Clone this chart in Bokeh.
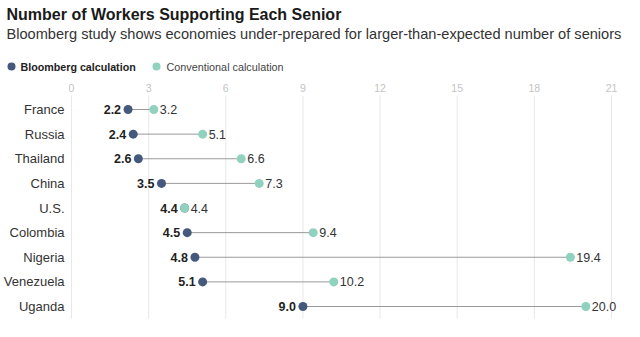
from bokeh.plotting import figure
from bokeh.models import Range1d, Label, ColumnDataSource
from bokeh.core.properties import value
from bokeh.embed import file_html
from bokeh.resources import INLINE

countries = ["France", "Russia", "Thailand", "China", "U.S.", "Colombia", "Nigeria", "Venezuela", "Uganda"]
bloomberg = [2.2, 2.4, 2.6, 3.5, 4.4, 4.5, 4.8, 5.1, 9.0]
conventional = [3.2, 5.1, 6.6, 7.3, 4.4, 9.4, 19.4, 10.2, 20.0]
ticks = [0, 3, 6, 9, 12, 15, 18, 21]

title = "Number of Workers Supporting Each Senior"
subtitle = "Bloomberg study shows economies under-prepared for larger-than-expected number of seniors"
legend_labels = ["Bloomberg calculation", "Conventional calculation"]

NAVY = "#44597c"
TEAL = "#90d2bf"
FONT = "Liberation Sans"

W, H = 640, 337
X0PX, X21PX = 71, 611
PXU = (X21PX - X0PX) / 21.0
ROW0, ROWN = 109, 306
PITCH = (ROWN - ROW0) / 8.0


def px(x):
    return (x - X0PX) / PXU


def py(y):
    return (y - ROW0) / PITCH


p = figure(width=W, height=H, output_backend="svg", toolbar_location=None,
           x_range=Range1d(px(0), px(W)), y_range=Range1d(py(H), py(0)),
           min_border=0)
p.axis.visible = False
p.grid.visible = False
p.outline_line_color = None
p.background_fill_color = "white"
p.border_fill_color = "white"

rows = list(range(len(countries)))
src = ColumnDataSource(dict(y=rows, country=countries, b=bloomberg, c=conventional,
                            bl=[f"{v:.1f}" for v in bloomberg],
                            cl=[f"{v:.1f}" for v in conventional]))

# grid lines
tsrc = ColumnDataSource(dict(x=ticks, lab=[str(t) for t in ticks]))
p.segment(x0="x", x1="x", y0=py(95), y1=py(318), source=tsrc, line_color="#e8e8e8", line_width=1)
p.text(x="x", y=py(87), text="lab", source=tsrc, text_font=value(FONT), text_font_size="10.5px",
       text_color="#c4c4c4", text_align="center", text_baseline="middle")

# connectors
p.segment(x0="b", x1="c", y0="y", y1="y", source=src, line_color="#9a9a9a", line_width=1)
p.scatter(x="b", y="y", source=src, size=9, fill_color=NAVY, line_color=None)
p.scatter(x="c", y="y", source=src, size=9, fill_color=TEAL, line_color=None)

# value labels
p.text(x="b", y="y", text="bl", source=src, x_offset=-7, text_align="right", text_baseline="middle",
       text_font=value(FONT), text_font_size="12.5px", text_font_style="bold", text_color="#1f1f1f")
p.text(x="c", y="y", text="cl", source=src, x_offset=6, text_align="left", text_baseline="middle",
       text_font=value(FONT), text_font_size="12.5px", text_color="#333333")

# country labels
p.text(x=px(64), y="y", text="country", source=src, text_align="right", text_baseline="middle",
       text_font=value(FONT), text_font_size="13px", text_color="#333333")

# title and subtitle
p.add_layout(Label(x=px(6), y=py(14), text=title, text_font=FONT, text_font_size="16px",
                   text_font_style="bold", text_color="#1a1a1a", text_baseline="middle"))
p.add_layout(Label(x=px(6), y=py(33), text=subtitle, text_font=FONT, text_font_size="14.6px",
                   text_color="#333333", text_baseline="middle"))

# legend
p.scatter(x=[px(11), px(156)], y=[py(66), py(66)], size=8, fill_color=[NAVY, TEAL], line_color=None)
p.add_layout(Label(x=px(20), y=py(66), text=legend_labels[0], text_font=FONT, text_font_size="10.7px",
                   text_font_style="bold", text_color="#222222", text_baseline="middle"))
p.add_layout(Label(x=px(166), y=py(66), text=legend_labels[1], text_font=FONT, text_font_size="10.8px",
                   text_color="#444444", text_baseline="middle"))

open("out.html", "w").write(file_html(p, INLINE))
